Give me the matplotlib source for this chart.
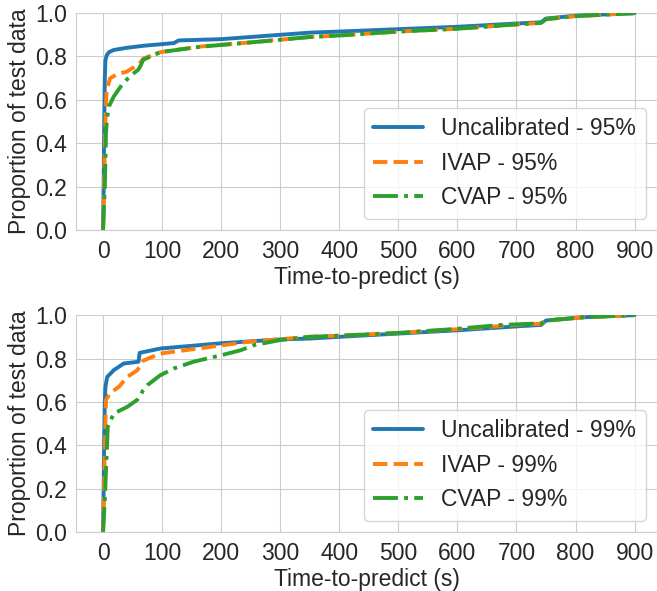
import matplotlib
matplotlib.use("Agg")
import matplotlib.pyplot as plt
import seaborn as sns

# values (time in s, proportion of test data)
t_unc95 = [0, 1, 2, 3, 4, 6, 10, 18, 40, 70, 100, 120, 128, 200, 300, 350, 400, 500, 600, 700, 742, 750, 800, 900]
p_unc95 = [0, 0.2, 0.5, 0.7, 0.78, 0.805, 0.82, 0.83, 0.84, 0.85, 0.857, 0.862, 0.874, 0.88, 0.90, 0.91, 0.915, 0.926, 0.937, 0.952, 0.958, 0.975, 0.988, 1.0]

t_ivap95 = [0, 2, 4, 6, 12, 25, 40, 58, 64, 68, 97, 165, 250, 351, 400, 500, 600, 700, 742, 750, 800, 900]
p_ivap95 = [0, 0.25, 0.5, 0.646, 0.7, 0.72, 0.73, 0.76, 0.775, 0.79, 0.82, 0.846, 0.865, 0.89, 0.897, 0.915, 0.928, 0.948, 0.955, 0.972, 0.986, 1.0]

t_cvap95 = [0, 3, 5, 7, 10, 18, 32, 46, 60, 64, 68, 97, 165, 250, 351, 400, 500, 600, 700, 742, 750, 800, 900]
p_cvap95 = [0, 0.2, 0.45, 0.52, 0.57, 0.615, 0.67, 0.71, 0.74, 0.76, 0.785, 0.82, 0.845, 0.865, 0.89, 0.897, 0.915, 0.928, 0.948, 0.955, 0.972, 0.986, 1.0]

t_unc99 = [0, 1, 2, 3, 4, 7, 18, 35, 60, 62, 97, 199, 300, 350, 400, 500, 600, 700, 742, 750, 813, 900]
p_unc99 = [0, 0.2, 0.45, 0.6, 0.67, 0.715, 0.746, 0.777, 0.785, 0.826, 0.846, 0.87, 0.888, 0.892, 0.9, 0.915, 0.93, 0.948, 0.955, 0.975, 0.99, 1.0]

t_ivap99 = [0, 2, 4, 5, 12, 27, 41, 58, 64, 68, 97, 200, 245, 350, 400, 500, 600, 700, 742, 750, 813, 900]
p_ivap99 = [0, 0.25, 0.5, 0.61, 0.64, 0.67, 0.715, 0.746, 0.77, 0.79, 0.823, 0.86, 0.877, 0.9, 0.905, 0.918, 0.935, 0.955, 0.96, 0.975, 0.99, 1.0]

t_cvap99 = [0, 3, 6, 8, 18, 41, 58, 64, 68, 75, 97, 120, 153, 200, 233, 256, 300, 350, 400, 500, 600, 670, 742, 750, 813, 900]
p_cvap99 = [0, 0.15, 0.35, 0.485, 0.546, 0.577, 0.61, 0.635, 0.654, 0.677, 0.723, 0.754, 0.785, 0.815, 0.838, 0.862, 0.885, 0.9, 0.905, 0.918, 0.937, 0.954, 0.962, 0.975, 0.99, 1.0]

x_ticks = [0, 100, 200, 300, 400, 500, 600, 700, 800, 900]
y_ticks = [0.0, 0.2, 0.4, 0.6, 0.8, 1.0]

panels = [
    ("95%", [(t_unc95, p_unc95), (t_ivap95, p_ivap95), (t_cvap95, p_cvap95)]),
    ("99%", [(t_unc99, p_unc99), (t_ivap99, p_ivap99), (t_cvap99, p_cvap99)]),
]
names = ["Uncalibrated", "IVAP", "CVAP"]
colors = ["#1f77b4", "#ff7f0e", "#2ca02c"]
styles = ["-", "--", "-."]

sns.set_style("whitegrid")
plt.rcParams['font.family'] = ['Liberation Sans', 'DejaVu Sans']
FS = 16.5

fig = plt.figure(figsize=(6.57, 5.91), dpi=100)
positions = [[0.1164, 0.6108, 0.8836, 0.367], [0.1164, 0.0998, 0.8836, 0.367]]

for pos, (level, series) in zip(positions, panels):
    ax = fig.add_axes(pos)
    for (t, p), name, c, ls in zip(series, names, colors, styles):
        ax.plot(t, p, color=c, linestyle=ls, linewidth=2.8, label=f"{name} - {level}")
    ax.set_xlim(-45, 938)
    ax.set_ylim(0, 1)
    ax.set_xticks(x_ticks)
    ax.set_yticks(y_ticks)
    ax.tick_params(labelsize=FS)
    ax.set_xlabel("Time-to-predict (s)", fontsize=FS, labelpad=2)
    ax.set_ylabel("Proportion of test data", fontsize=FS, labelpad=3)
    ax.legend(loc="lower right", fontsize=FS, handlelength=2.2)
    sns.despine(ax=ax)

fig.savefig("out.png", dpi=100)
